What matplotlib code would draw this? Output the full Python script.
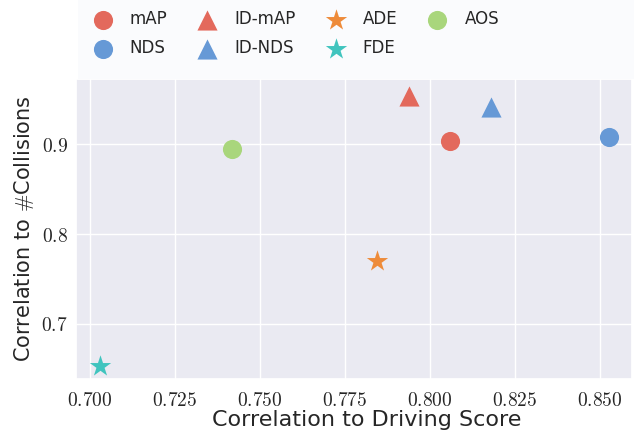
import matplotlib
matplotlib.use("Agg")
import matplotlib.pyplot as plt
import seaborn as sns
from matplotlib.patches import Rectangle
from matplotlib.ticker import FuncFormatter

metricas = ["mAP", "NDS", "ID-mAP", "ID-NDS", "ADE", "FDE", "AOS"]
corr_driving = [0.8059, 0.8526, 0.7939, 0.8178, 0.7843, 0.7029, 0.7419]
corr_collisions = [0.9037, 0.908, 0.954, 0.942, 0.770, 0.6534, 0.8952]
marcadores = ["o", "o", "^", "^", "*", "*", "o"]
colores = ["#E3695C", "#6699D6", "#E3695C", "#6699D6", "#EE8B3A", "#40C4BE", "#A9D67C"]
tamanos = [190, 190, 210, 210, 260, 260, 190]

sns.set_theme(style="darkgrid")
plt.rcParams["font.family"] = ["DejaVu Sans"]
plt.rcParams["mathtext.fontset"] = "cm"

fig = plt.figure(figsize=(6.34, 4.32), dpi=100)
ax = fig.add_axes([0.1199, 0.1227, 0.877, 0.694])

for m, x, y, mk, c, s in zip(metricas, corr_driving, corr_collisions, marcadores, colores, tamanos):
    ax.scatter(x, y, marker=mk, color=c, s=s, label=m, linewidths=0, zorder=3)

ax.set_xlim(0.6959, 0.8594)
ax.set_ylim(0.6386, 0.9726)
ax.set_xticks([0.700, 0.725, 0.750, 0.775, 0.800, 0.825, 0.850])
ax.set_yticks([0.7, 0.8, 0.9])
ax.xaxis.set_major_formatter(FuncFormatter(lambda v, p: f"${v:.3f}$"))
ax.yaxis.set_major_formatter(FuncFormatter(lambda v, p: f"${v:.1f}$"))
ax.tick_params(labelsize=14)
ax.tick_params(axis="y", pad=0)
ax.tick_params(axis="x", pad=3)
ax.set_xlabel("Correlation to Driving Score", fontsize=16, labelpad=0)
ax.xaxis.set_label_coords(0.523, -0.105)
ax.set_ylabel(r"Correlation to $\#$Collisions", fontsize=15, labelpad=4)

# fondo claro de la leyenda, hasta el borde derecho
fig.patches.append(Rectangle((78 / 634, 1 - 79 / 432), 1, 79 / 432,
                             transform=fig.transFigure, facecolor="#fafbfd",
                             edgecolor="none", zorder=0))

handles, labels = ax.get_legend_handles_labels()
fig.legend(handles, labels, ncol=4, loc="upper left",
           bbox_to_anchor=(86 / 634, 1 - 10 / 432),
           fontsize=12, frameon=False, borderpad=0, borderaxespad=0,
           columnspacing=1.4, handletextpad=0.62, labelspacing=0.68)

fig.savefig("out.png", dpi=100)
